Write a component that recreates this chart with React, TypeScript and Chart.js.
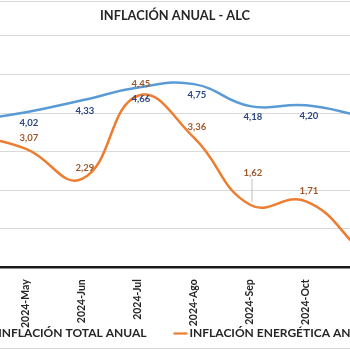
import React, { useEffect, useRef } from 'react';
import { Chart, registerables } from 'chart.js';

Chart.register(...registerables);

// ---- data ----
const categories = ['2024-Abr', '2024-May', '2024-Jun', '2024-Jul', '2024-Ago', '2024-Sep', '2024-Oct', '2024-Nov'];
const totalValues = [3.8, 4.02, 4.33, 4.66, 4.75, 4.18, 4.2, 3.92];
const energyValues = [3.45, 3.07, 2.29, 4.45, 3.36, 1.62, 1.71, 0.4];
const seriesNames = ['INFLACIÓN TOTAL ANUAL', 'INFLACIÓN ENERGÉTICA ANUAL'];
const titleText = 'INFLACIÓN ANUAL - ALC';
const yMin = 0;
const yMax = 6;
const yStep = 1;

// ---- style / placement config ----
const FONT = 'Lato, "Open Sans", sans-serif';
const BLUE = '#5B9BD5';
const ORANGE = '#ED7D31';
const BLUE_LABEL = '#2A4680';
const ORANGE_LABEL = '#A0582A';
const TEXT = '#262626';
const totalLabelDy = [11, 11, 11, 11, 11, 11, 11, 11];
const energyLabelDy = [-11, -11, -11, -12, -11, -32, -10, -11];
const leaderIdx = 5;

const fmt = (v: number) => v.toFixed(2).replace('.', ',');

const framePlugin = {
  id: 'frame',
  beforeDraw(chart: any) {
    const { ctx, width, height } = chart;
    ctx.save();
    ctx.fillStyle = '#ffffff';
    ctx.fillRect(0, 0, width, height);
    ctx.strokeStyle = '#d9d9d9';
    ctx.lineWidth = 1;
    ctx.strokeRect(0.5, 1.5, width - 1, height - 3);
    ctx.restore();
  },
};

const labelPlugin = {
  id: 'valueLabels',
  afterDatasetsDraw(chart: any) {
    const { ctx } = chart;
    ctx.save();
    ctx.font = `bold 9.5px ${FONT}`;
    ctx.textAlign = 'center';
    ctx.textBaseline = 'middle';
    chart.data.datasets.forEach((ds: any, di: number) => {
      const meta = chart.getDatasetMeta(di);
      const dys = di === 0 ? totalLabelDy : energyLabelDy;
      meta.data.forEach((pt: any, i: number) => {
        const v = ds.data[i].y;
        const lx = pt.x + 3;
        const ly = pt.y + dys[i];
        if (di === 1 && i === leaderIdx) {
          ctx.strokeStyle = '#bfbfbf';
          ctx.lineWidth = 1;
          ctx.beginPath();
          ctx.moveTo(lx - 1, ly + 6);
          ctx.lineTo(pt.x + 2, pt.y - 3);
          ctx.stroke();
        }
        ctx.fillStyle = di === 0 ? BLUE_LABEL : ORANGE_LABEL;
        ctx.fillText(fmt(v), lx, ly);
      });
    });
    ctx.restore();
  },
};

const legendPlugin = {
  id: 'lineLegend',
  afterDraw(chart: any) {
    const { ctx, width, height } = chart;
    ctx.save();
    ctx.font = `bold 12px ${FONT}`;
    ctx.textBaseline = 'middle';
    ctx.textAlign = 'left';
    const marker = 14;
    const gap = 2;
    const itemGap = 27;
    const items = chart.data.datasets.map((ds: any) => ({
      text: ds.label,
      color: ds.borderColor,
      w: marker + gap + ctx.measureText(ds.label).width,
    }));
    const total = items.reduce((s: number, it: any) => s + it.w, 0) + itemGap * (items.length - 1);
    let x = (width - total) / 2 + 3;
    const y = height - 16.5;
    items.forEach((it: any) => {
      ctx.strokeStyle = it.color;
      ctx.lineWidth = 2.2;
      ctx.beginPath();
      ctx.moveTo(x, y);
      ctx.lineTo(x + marker, y);
      ctx.stroke();
      ctx.fillStyle = TEXT;
      ctx.fillText(it.text, x + marker + gap, y);
      x += it.w + itemGap;
    });
    ctx.restore();
  },
};

export default function App() {
  const ref = useRef<HTMLCanvasElement | null>(null);

  useEffect(() => {
    if (!ref.current) return;
    const chart = new Chart(ref.current, {
      type: 'line',
      data: {
        datasets: [
          {
            label: seriesNames[0],
            data: totalValues.map((v, i) => ({ x: i, y: v })),
            borderColor: BLUE,
            backgroundColor: BLUE,
            borderWidth: 2.5,
            pointRadius: 0,
            tension: 0.45,
          },
          {
            label: seriesNames[1],
            data: energyValues.map((v, i) => ({ x: i, y: v })),
            borderColor: ORANGE,
            backgroundColor: ORANGE,
            borderWidth: 2.5,
            pointRadius: 0,
            tension: 0.45,
          },
        ],
      },
      options: {
        responsive: false,
        animation: false,
        devicePixelRatio: 1,
        layout: { padding: { left: 0, right: 0, top: 0, bottom: 18 } },
        plugins: {
          legend: { display: false },
          tooltip: { enabled: false },
          title: {
            display: true,
            text: titleText,
            color: TEXT,
            font: { family: FONT, size: 12.8, weight: 'bold' },
            padding: { top: 8.5, bottom: 12.1 },
          },
        },
        scales: {
          x: {
            type: 'linear',
            min: -0.357,
            max: 7.679,
            grid: { display: false },
            border: { display: true, color: '#1a1a1a', width: 2.5 },
            ticks: {
              stepSize: 1,
              includeBounds: false,
              autoSkip: false,
              minRotation: 90,
              maxRotation: 90,
              padding: 4,
              color: TEXT,
              font: { family: FONT, size: 10.5, weight: 'bold' },
              callback: (v: any) => (Number.isInteger(v) && categories[v] !== undefined ? categories[v] : ''),
            },
          },
          y: {
            min: yMin,
            max: yMax,
            grid: { color: '#d9d9d9', lineWidth: 1, drawTicks: false },
            border: { display: false },
            ticks: { display: false, stepSize: yStep },
          },
        },
      },
      plugins: [framePlugin, labelPlugin, legendPlugin],
    });
    return () => chart.destroy();
  }, []);

  return (
    <div style={{ position: 'fixed', left: 0, top: 0, width: 350, height: 350, overflow: 'hidden', background: '#fff' }}>
      <div style={{ position: 'absolute', left: -50, top: 0, width: 450, height: 350 }}>
        <canvas ref={ref} width={450} height={350} style={{ display: 'block' }} />
      </div>
    </div>
  );
}
